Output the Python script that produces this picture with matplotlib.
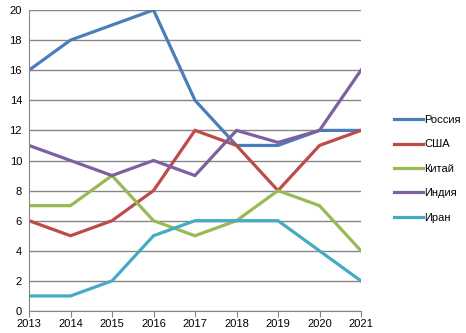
import matplotlib
matplotlib.use("Agg")
import matplotlib.pyplot as plt

years = [2013, 2014, 2015, 2016, 2017, 2018, 2019, 2020, 2021]
russia = [16, 18, 19, 20, 14, 11, 11, 12, 12]
usa = [6, 5, 6, 8, 12, 11, 8, 11, 12]
china = [7, 7, 9, 6, 5, 6, 8, 7, 4]
india = [11, 10, 9, 10, 9, 12, 11.2, 12, 16]
iran = [1, 1, 2, 5, 6, 6, 6, 4, 2]
names = ["Россия", "США", "Китай", "Индия", "Иран"]
colors = ["#4A7EBB", "#BE4B48", "#98B954", "#7D60A0", "#46AAC5"]

plt.rcParams['font.family'] = ['Liberation Sans', 'DejaVu Sans']
fig = plt.figure(figsize=(4.66, 3.33), dpi=100)
ax = fig.add_axes([29/466, 1-311/333, (361-29)/466, (311-10)/333])

for s, n, c in zip([russia, usa, china, india, iran], names, colors):
    ax.plot(years, s, color=c, lw=2.3, label=n, solid_joinstyle='miter')

ax.set_xlim(2013, 2021)
ax.set_ylim(0, 20)
ax.set_yticks(range(0, 21, 2))
ax.set_xticks(years)
ax.grid(axis='y', color='#868686', lw=1)
ax.set_axisbelow(True)
for sp in ['top', 'right']:
    ax.spines[sp].set_visible(False)
for sp in ['left', 'bottom']:
    ax.spines[sp].set_color('#868686')
ax.tick_params(axis='x', length=4, color='#868686', labelsize=8, pad=2)
ax.tick_params(axis='y', length=0, labelsize=8, pad=5)

leg = fig.legend(loc='upper left', bbox_to_anchor=(384/466, 1-105/333), frameon=False,
                 prop={'size': 8}, handlelength=2.6, handletextpad=0.15, labelspacing=1.3)
fig.savefig("out.png", dpi=100)
